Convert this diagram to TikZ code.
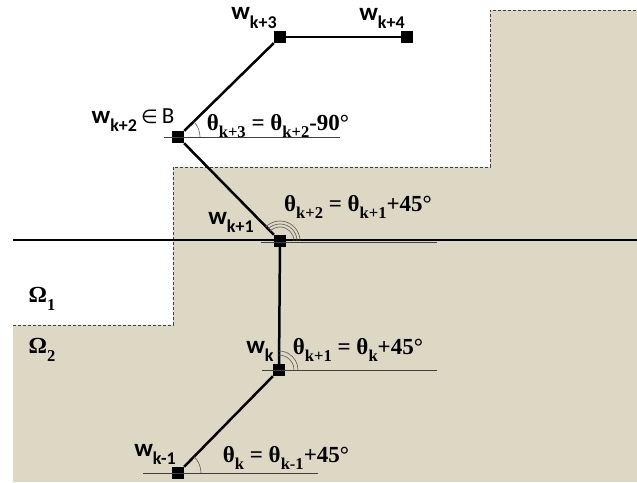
\documentclass[tikz,border=0pt]{standalone}
\usepackage{fontspec}
\setmainfont{Liberation Serif}
\newfontfamily\wfont{Carlito}
\newfontfamily\symfont{DejaVu Sans}
\definecolor{sand}{RGB}{221,216,196}
\newcommand\ssub[1]{\raisebox{-0.32em}{\scalebox{0.72}{#1}}}
\begin{document}
\begin{tikzpicture}[x=1pt,y=1pt,
 vtx/.style={fill=black, minimum size=12pt, inner sep=0pt, rectangle},
 seg/.style={line width=2.5pt},
 refl/.style={line width=0.8pt, black!75},
 arcl/.style={line width=0.6pt, black!65},
 wl/.style={font=\wfont\bfseries\fontsize{25}{26}\selectfont, inner sep=0pt},
 tl/.style={font=\bfseries\fontsize{23}{26}\selectfont, inner sep=0pt},
 bord/.style={draw=black!75, dash pattern=on 3pt off 2pt, line width=0.8pt}]
\useasboundingbox (0,0) rectangle (637,482);
\fill[sand] (13,157) -- (173,157) -- (173,315) -- (490,315) -- (490,472) -- (637,472) -- (637,0) -- (13,0) -- cycle;
\draw[bord] (13,157) -- (173,157) -- (173,315) -- (490,315) -- (490,472) -- (637,472);
\draw[line width=1.5pt] (13,242) -- (637,242);
% vertices
\node[vtx] (w0) at (178,9) {};
\node[vtx] (w1) at (279,112) {};
\node[vtx] (w2) at (280,241) {};
\node[vtx] (w3) at (178,345) {};
\node[vtx] (w4) at (280,445) {};
\node[vtx] (w5) at (407,445) {};
% reference lines
\draw[refl] ([xshift=-35pt]w0.center) -- ([xshift=140pt]w0.center);
\draw[refl] ([xshift=-17pt]w1.center) -- ([xshift=158pt]w1.center);
\draw[refl] ([shift={(-19pt,-1.5pt)}]w2.center) -- ([shift={(157pt,-1.5pt)}]w2.center);
\draw[refl] ([xshift=-14pt]w3.center) -- ([xshift=162pt]w3.center);
% segments
\draw[seg] (w0) -- (w1);
\draw[seg] (w1) -- (w2);
\draw[seg] (w2) -- (w3);
\draw[seg] (w3) -- (w4);
\draw[seg] (w4) -- (w5);
% angle arcs
\draw[arcl] ([xshift=23pt]w0.center) arc[start angle=0, end angle=45, radius=23pt];
\draw[arcl] ([xshift=15pt]w1.center) arc[start angle=0, end angle=95, radius=15pt];
\draw[arcl] ([xshift=19pt]w1.center) arc[start angle=0, end angle=95, radius=19pt];
\draw[arcl] ([xshift=14pt]w2.center) arc[start angle=0, end angle=135, radius=14pt];
\draw[arcl] ([xshift=17pt]w2.center) arc[start angle=0, end angle=135, radius=17pt];
\draw[arcl] ([xshift=20pt]w2.center) arc[start angle=0, end angle=135, radius=20pt];
\draw[arcl] ([xshift=22pt]w3.center) arc[start angle=0, end angle=45, radius=22pt];
% labels
\node[wl] (l4) at (254,464) {w\ssub{k+3}};
\node[wl] (l5) at (382,464) {w\ssub{k+4}};
\node[wl] (l3) at (133,362) {w\ssub{k+2}\,{\symfont\fontsize{19}{20}\selectfont\mdseries ∈}\,{\fontsize{23}{24}\selectfont\mdseries B}};
\node[wl] (l2) at (231,260) {w\ssub{k+1}};
\node[wl] (l1) at (260,131) {w\ssub{k}};
\node[wl] (l0) at (155,28) {w\ssub{k-1}};
\node[tl] (o1) at (42,183) {Ω\ssub{1}};
\node[tl] (o2) at (42,132) {Ω\ssub{2}};
\node[tl] (t0) at (286,24) {θ\ssub{k} = θ\ssub{k-1}+45°};
\node[tl] (t1) at (358,132) {θ\ssub{k+1} = θ\ssub{k}+45°};
\node[tl] (t2) at (358,275) {θ\ssub{k+2} = θ\ssub{k+1}+45°};
\node[tl] (t3) at (278,356) {θ\ssub{k+3} = θ\ssub{k+2}-90°};
\end{tikzpicture}
\end{document}
